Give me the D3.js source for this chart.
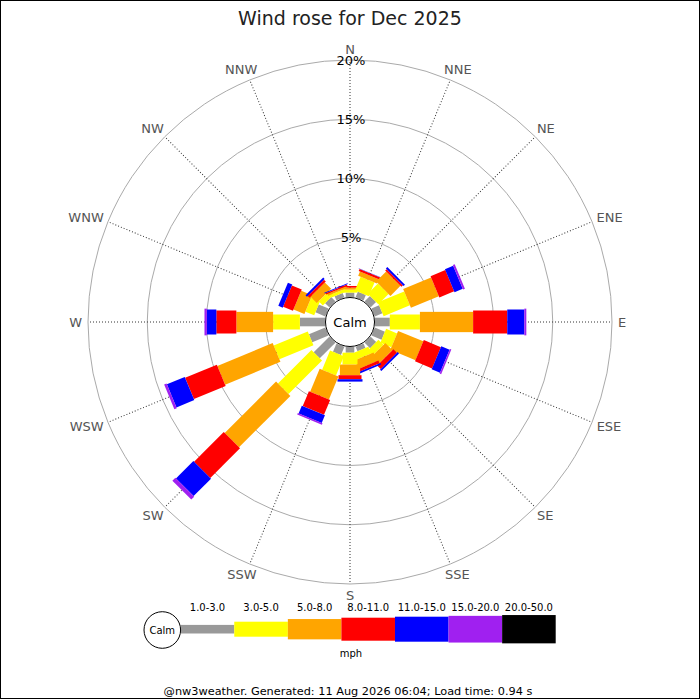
<!DOCTYPE html>
<html>
<head>
<meta charset="utf-8">
<script src="https://cdn.jsdelivr.net/npm/d3@7"></script>
<style>
  html, body { margin: 0; padding: 0; background: #fff; }
  svg { display: block; font-family: "DejaVu Sans", sans-serif; }
</style>
</head>
<body>
<div id="chart"></div>
<script>
// Wind rose, Dec 2025 — percent of observations per direction and speed band
const directions = ["N","NNE","NE","ENE","E","ESE","SE","SSE","S","SSW","SW","WSW","W","WNW","NW","NNW"];
const bands = ["1.0-3.0","3.0-5.0","5.0-8.0","8.0-11.0","11.0-15.0","15.0-20.0","20.0-50.0"];

const band1 = [0.37,0.50,0.64,0.70,1.25,0.93,0.65,0.42,0.48,0.76,1.86,1.49,2.12,0.90,0.50,0.40];
const band2 = [0.25,1.27,1.22,2.40,2.54,1.00,0.60,0.60,1.00,1.75,4.00,3.11,2.26,0.80,0.50,0.25];
const band3 = [0.17,0.38,1.20,2.55,4.49,2.30,0.85,0.80,0.90,2.10,6.13,5.05,3.10,1.00,0.75,0.15];
const band4 = [0.14,0.19,0.17,1.35,2.88,1.56,0.42,0.25,0.34,1.36,3.54,2.90,1.69,0.90,0.22,0.12];
const band5 = [0.00,0.03,0.17,0.75,1.44,0.76,0.17,0.15,0.20,0.71,2.08,1.63,0.80,0.40,0.17,0.08];
const band6 = [0.00,0.00,0.00,0.17,0.17,0.13,0.00,0.00,0.00,0.13,0.35,0.22,0.20,0.00,0.00,0.00];
const band7 = [0,0,0,0,0,0,0,0,0,0,0,0,0,0,0,0];

const ringTicks = [5, 10, 15, 20];
const title = "Wind rose for Dec 2025";
const footer = "@nw3weather. Generated: 11 Aug 2026 06:04; Load time: 0.94 s";

(function () {
  const W = 700, H = 700;
  const CX = 350, CY = 322;
  const COLORS = ["#999999","#ffff00","#ffa500","#ff0000","#0000ff","#a020f0","#000000"];
  const WIDTHS = [8.6, 15, 20.3, 23, 25, 26.7, 28.3];
  const series = [band1, band2, band3, band4, band5, band6, band7];

  const svg = d3.select("#chart").append("svg")
    .attr("width", W).attr("height", H).attr("viewBox", `0 0 ${W} ${H}`);

  // frame
  svg.append("rect").attr("x",0.5).attr("y",0.5).attr("width",W-1).attr("height",H-2)
    .attr("fill","#fff").attr("stroke","#000");

  svg.append("text").attr("x",W/2).attr("y",25).attr("text-anchor","middle")
    .attr("font-size","19px").attr("fill","#222").text(title);

  const r = d3.scaleLinear().domain([0, 20]).range([25, 262]);
  const ang = d3.scalePoint().domain(directions).range([0, 337.5]);

  const g = svg.append("g").attr("transform", `translate(${CX},${CY})`);

  // rings
  g.selectAll(".ring").data(ringTicks).join("circle")
    .attr("r", d => r(d)).attr("fill","none").attr("stroke","#aaaaaa").attr("stroke-width",1);

  // spokes
  g.selectAll(".spoke").data(directions).join("line")
    .attr("x1",0).attr("y1",-r(0)).attr("x2",0).attr("y2",-r(20))
    .attr("transform", d => `rotate(${ang(d)})`)
    .attr("stroke","#333").attr("stroke-width",1).attr("stroke-dasharray","1,2");

  // stacked bars
  directions.forEach((dir, i) => {
    const dg = g.append("g").attr("transform", `rotate(${ang(dir)})`);
    let acc = 0;
    series.forEach((vals, b) => {
      const v = vals[i];
      if (v <= 0) return;
      const r0 = r(acc), r1 = r(acc + v);
      acc += v;
      dg.append("rect")
        .attr("x", -WIDTHS[b]/2).attr("y", -r1)
        .attr("width", WIDTHS[b]).attr("height", r1 - r0)
        .attr("fill", COLORS[b]);
    });
  });

  // calm circle
  g.append("circle").attr("r", 24.5).attr("fill","#fff").attr("stroke","#000");
  g.append("text").attr("text-anchor","middle").attr("dominant-baseline","central")
    .attr("font-size","13px").text("Calm");

  // percent labels
  g.selectAll(".pct").data(ringTicks).join("text")
    .attr("x", 1).attr("y", d => -r(d))
    .attr("text-anchor","middle").attr("dominant-baseline","central")
    .attr("font-size","13px").attr("fill","#000").text(d => d + "%");

  // compass labels: box offset outward from a point at radius 268
  g.selectAll(".dir").data(directions).join("text")
    .attr("text-anchor","middle").attr("dominant-baseline","central")
    .attr("font-size","13px").attr("fill","#555").text(d => d)
    .each(function (d) {
      const a = ang(d) * Math.PI / 180;
      const w = this.getComputedTextLength(), h = 10, R = 268;
      const x = R * Math.sin(a) + (w/2) * Math.sin(a);
      const y = -R * Math.cos(a) - (h/2) * Math.cos(a);
      d3.select(this).attr("x", x).attr("y", y);
    });

  // legend
  const lx = d3.scaleBand().domain(bands).range([180.7, 555.7]).padding(0);
  const LY = 629.2;
  svg.selectAll(".leg").data(bands).join("rect")
    .attr("x", d => lx(d)).attr("y", (d,i) => LY - WIDTHS[i]/2)
    .attr("width", lx.bandwidth()).attr("height", (d,i) => WIDTHS[i])
    .attr("fill", (d,i) => COLORS[i]);
  svg.selectAll(".leglab").data(bands).join("text")
    .attr("x", d => lx(d) + lx.bandwidth()/2).attr("y", 611)
    .attr("text-anchor","middle").attr("font-size","10px").attr("fill","#000").text(d => d);
  svg.append("circle").attr("cx",162.3).attr("cy",630).attr("r",18.3)
    .attr("fill","#fff").attr("stroke","#000");
  svg.append("text").attr("x",162.3).attr("y",630).attr("text-anchor","middle")
    .attr("dominant-baseline","central").attr("font-size","10px").text("Calm");
  svg.append("text").attr("x",351).attr("y",657).attr("text-anchor","middle")
    .attr("font-size","10px").text("mph");

  svg.append("text").attr("x",348).attr("y",695).attr("text-anchor","middle")
    .attr("font-size","11.3px").attr("fill","#000").text(footer);
})();
</script>
</body>
</html>
